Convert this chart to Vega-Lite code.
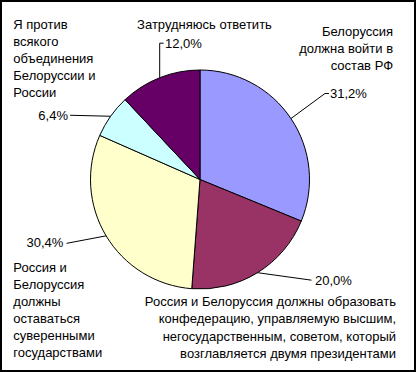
{
  "$schema": "https://vega.github.io/schema/vega-lite/v6.json",
  "width": 414,
  "height": 370,
  "autosize": {"type": "none"},
  "padding": 1,
  "background": "white",
  "data": {
    "values": [
      {"order": 1, "category": "Белоруссия\nдолжна войти в\nсостав РФ", "value": 31.2},
      {"order": 2, "category": "Россия и Белоруссия должны образовать\nконфедерацию, управляемую высшим,\nнегосударственным, советом, который\nвозглавляется двумя президентами", "value": 20.0},
      {"order": 3, "category": "Россия и\nБелоруссия\nдолжны\nоставаться\nсуверенными\nгосударствами", "value": 30.4},
      {"order": 4, "category": "Я против\nвсякого\nобъединения\nБелоруссии и\nРоссии", "value": 6.4},
      {"order": 5, "category": "Затрудняюсь ответить", "value": 12.0}
    ]
  },
  "transform": [
    {"stack": "value", "groupby": [], "sort": [{"field": "order", "order": "ascending"}], "as": ["v0", "v1"]},
    {"calculate": "(datum.v0 + datum.v1) / 2", "as": "mid"},
    {"calculate": "sin(2 * PI * datum.mid / 100)", "as": "ex"},
    {"calculate": "cos(2 * PI * datum.mid / 100)", "as": "ey"},
    {"calculate": "datum.value / 100", "as": "share"}
  ],
  "encoding": {
    "x": {"field": "ex", "type": "quantitative", "scale": {"domain": [-1.81735, 1.96347], "nice": false, "zero": false}, "axis": null},
    "y": {"field": "ey", "type": "quantitative", "scale": {"domain": [-1.74886, 1.63014], "nice": false, "zero": false}, "axis": null}
  },
  "layer": [
    {
      "mark": {"type": "arc", "outerRadius": 109.5, "stroke": "black", "strokeWidth": 1},
      "encoding": {
        "x": {"datum": 0, "type": "quantitative", "axis": null},
        "y": {"datum": 0, "type": "quantitative", "axis": null},
        "theta": {"field": "v0", "type": "quantitative", "scale": {"domain": [0, 100], "range": [0, 6.283185307]}},
        "theta2": {"field": "v1"},
        "color": {"field": "category", "type": "nominal", "sort": {"field": "order", "op": "min"}, "scale": {"range": ["#9999FF", "#993366", "#FFFFCC", "#CCFFFF", "#660066"]}, "legend": null}
      }
    },
    {"transform": [{"filter": "datum.order == 1"}], "mark": {"type": "rule", "color": "black", "strokeWidth": 1, "x2Offset": 34, "y2Offset": -25}, "encoding": {"x2": {"field": "ex"}, "y2": {"field": "ey"}}},
    {"transform": [{"filter": "datum.order == 1"}], "mark": {"type": "rule", "color": "black", "strokeWidth": 1, "xOffset": 34, "yOffset": -25, "x2Offset": 38, "y2Offset": -25}, "encoding": {"x2": {"field": "ex"}, "y2": {"field": "ey"}}},
    {"transform": [{"filter": "datum.order == 2"}], "mark": {"type": "rule", "color": "black", "strokeWidth": 1, "x2Offset": 54, "y2Offset": 7.5}, "encoding": {"x2": {"field": "ex"}, "y2": {"field": "ey"}}},
    {"transform": [{"filter": "datum.order == 3"}], "mark": {"type": "rule", "color": "black", "strokeWidth": 1, "x2Offset": -39.5, "y2Offset": 7.5}, "encoding": {"x2": {"field": "ex"}, "y2": {"field": "ey"}}},
    {"transform": [{"filter": "datum.order == 4"}], "mark": {"type": "rule", "color": "black", "strokeWidth": 1, "x2Offset": -40.5, "y2Offset": -1}, "encoding": {"x2": {"field": "ex"}, "y2": {"field": "ey"}}},
    {"transform": [{"filter": "datum.order == 5"}], "mark": {"type": "rule", "color": "black", "strokeWidth": 1, "x2Offset": 0, "y2Offset": -34.5}, "encoding": {"x2": {"field": "ex"}, "y2": {"field": "ey"}}},
    {"transform": [{"filter": "datum.order == 5"}], "mark": {"type": "rule", "color": "black", "strokeWidth": 1, "yOffset": -34.5, "x2Offset": 4, "y2Offset": -34.5}, "encoding": {"x2": {"field": "ex"}, "y2": {"field": "ey"}}},
    {"transform": [{"filter": "datum.order == 1"}], "mark": {"type": "text", "align": "left", "baseline": "middle", "dx": 39, "dy": -25}, "encoding": {"text": {"field": "share", "type": "quantitative", "format": ".1%"}}},
    {"transform": [{"filter": "datum.order == 2"}], "mark": {"type": "text", "align": "left", "baseline": "middle", "dx": 57.5, "dy": 8.3}, "encoding": {"text": {"field": "share", "type": "quantitative", "format": ".1%"}}},
    {"transform": [{"filter": "datum.order == 3"}], "mark": {"type": "text", "align": "right", "baseline": "middle", "dx": -42.8, "dy": 7.5}, "encoding": {"text": {"field": "share", "type": "quantitative", "format": ".1%"}}},
    {"transform": [{"filter": "datum.order == 4"}], "mark": {"type": "text", "align": "right", "baseline": "middle", "dx": -42.6, "dy": -0.3}, "encoding": {"text": {"field": "share", "type": "quantitative", "format": ".1%"}}},
    {"transform": [{"filter": "datum.order == 5"}], "mark": {"type": "text", "align": "left", "baseline": "middle", "dx": 5.3, "dy": -33.7}, "encoding": {"text": {"field": "share", "type": "quantitative", "format": ".1%"}}},
    {"transform": [{"filter": "datum.order == 1"}], "mark": {"type": "text", "align": "right", "baseline": "middle", "lineBreak": "\n", "lineHeight": 17, "dx": 102.1, "dy": -86.8}, "encoding": {"text": {"field": "category"}}},
    {"transform": [{"filter": "datum.order == 2"}], "mark": {"type": "text", "align": "right", "baseline": "middle", "lineBreak": "\n", "lineHeight": 17.5, "dx": 138.5, "dy": 29}, "encoding": {"text": {"field": "category"}}},
    {"transform": [{"filter": "datum.order == 3"}], "mark": {"type": "text", "align": "left", "baseline": "middle", "lineBreak": "\n", "lineHeight": 17, "dx": -92.8, "dy": 32.5}, "encoding": {"text": {"field": "category"}}},
    {"transform": [{"filter": "datum.order == 4"}], "mark": {"type": "text", "align": "left", "baseline": "middle", "lineBreak": "\n", "lineHeight": 17, "dx": -97.3, "dy": -91.3}, "encoding": {"text": {"field": "category"}}},
    {"transform": [{"filter": "datum.order == 5"}], "mark": {"type": "text", "align": "center", "baseline": "middle", "dx": 44.8, "dy": -52.7}, "encoding": {"text": {"field": "category"}}}
  ],
  "config": {
    "view": {"stroke": "black", "strokeWidth": 2},
    "font": "Liberation Sans",
    "text": {"fontSize": 13, "color": "black", "font": "Liberation Sans"},
    "locale": {"number": {"decimal": ",", "thousands": " ", "grouping": [3], "currency": ["", " руб."]}}
  }
}
